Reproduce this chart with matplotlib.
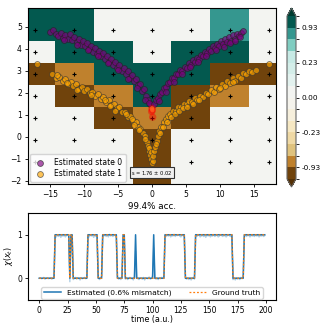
import numpy as np
import matplotlib
matplotlib.use("Agg")
import matplotlib.pyplot as plt
from matplotlib.colors import ListedColormap, BoundaryNorm

# grid of cells behind the scatter (centers and values)
grid_x = [-17.25, -11.5, -5.75, 0.0, 5.75, 11.5, 17.25]
grid_y = [-1.14, -0.14, 0.86, 1.86, 2.86, 3.86, 4.86]
grid_vals = [  # bottom row first
    [0.0, 0.0, 0.0, -0.97, 0.0, 0.0, 0.0],
    [0.0, 0.0, 0.0, -0.97, 0.0, 0.0, 0.0],
    [0.0, 0.0, -0.97, -0.85, -0.97, 0.0, 0.0],
    [0.0, -0.97, -0.85, 0.96, -0.97, -0.85, 0.0],
    [-0.97, -0.85, 0.96, 0.96, 0.96, -0.97, -0.97],
    [0.0, 0.96, 0.96, 0.0, 0.96, 0.96, 0.0],
    [0.96, 0.96, 0.0, 0.0, 0.0, 0.85, 0.0],
]
levels = [-1, -0.93, -0.7, -0.45, -0.23, -0.12, -0.05, 0, 0.05, 0.12, 0.23, 0.45, 0.7, 0.93, 1]
cbar_ticks = [-0.93, -0.23, 0.0, 0.23, 0.93]

# estimated state 0 (purple), left and right arms
s0_left_x = [-15.1, -14.6, -14.2, -13.8, -13.4, -13.1, -12.8, -12.4, -12.1, -11.8, -11.5, -11.1,
             -10.8, -10.5, -10.2, -9.9, -9.6, -9.3, -9.0, -8.7, -8.4, -8.1, -7.8, -7.5, -7.2,
             -6.9, -6.6, -6.3, -6.0, -5.7, -5.4, -5.1, -4.8, -4.5, -4.2, -3.9, -3.6, -3.3, -3.0,
             -2.7, -2.4, -2.1, -1.8, -1.5, -1.2, -0.9, -0.6, -0.3,
             -13.0, -11.0, -9.5, -8.0, -6.5, -5.0, -3.5, -2.2, -1.0, -0.5]
s0_left_y = [4.78, 4.86, 4.68, 4.58, 4.72, 4.50, 4.64, 4.46, 4.70, 4.40, 4.56, 4.30,
             4.46, 4.20, 4.36, 4.12, 4.26, 4.00, 4.14, 3.88, 4.02, 3.78, 3.90, 3.66, 3.80,
             3.54, 3.68, 3.40, 3.54, 3.28, 3.42, 3.14, 3.28, 3.00, 3.12, 2.86, 2.98, 2.70, 2.80,
             2.54, 2.62, 2.34, 2.40, 2.10, 2.16, 1.86, 1.70, 1.48,
             4.40, 4.20, 3.95, 3.70, 3.38, 3.05, 2.62, 2.22, 1.70, 1.55]
s0_right_x = [0.3, 0.6, 0.9, 1.2, 1.5, 1.8, 2.1, 2.4, 2.7, 3.0, 3.3, 3.6, 3.9, 4.2, 4.5, 4.8,
              5.1, 5.4, 5.7, 6.0, 6.3, 6.6, 6.9, 7.2, 7.5, 7.8, 8.1, 8.4, 8.7, 9.0, 9.3, 9.6,
              9.9, 10.2, 10.5, 10.8, 11.1, 11.4, 11.7, 12.0, 12.3, 12.6, 12.9, 13.2, 13.5,
              1.0, 2.0, 3.2, 4.4, 5.6, 6.8, 8.0, 9.4, 10.6, 11.5, 12.2, 13.0]
s0_right_y = [1.48, 1.66, 1.78, 1.96, 2.02, 2.22, 2.26, 2.46, 2.48, 2.66, 2.66, 2.84, 2.84,
              3.02, 3.00, 3.18, 3.14, 3.34, 3.28, 3.48, 3.42, 3.60, 3.54, 3.72, 3.66, 3.86,
              3.80, 3.98, 3.92, 4.12, 4.02, 4.24, 4.14, 4.34, 4.22, 4.44, 4.30, 4.54, 4.38,
              4.62, 4.46, 4.66, 4.60, 4.74, 4.80,
              1.62, 2.05, 2.50, 2.86, 3.18, 3.42, 3.70, 3.94, 4.10, 4.28, 4.36, 4.52]

# estimated state 1 (orange), left and right arms
s1_left_x = [-17.0, -14.8, -14.2, -13.7, -13.2, -12.8, -12.4, -12.0, -11.6, -11.2, -10.8, -10.4,
             -10.0, -9.6, -9.2, -8.8, -8.4, -8.0, -7.6, -7.2, -6.8, -6.4, -6.0, -5.6, -5.2,
             -4.8, -4.4, -4.0, -3.6, -3.2, -2.8, -2.4, -2.0, -1.7, -1.4, -1.1, -0.8, -0.6,
             -0.4, -0.25, -0.1, 0.0,
             -14.0, -12.6, -11.0, -9.0, -7.0, -6.2, -5.4, -3.8, -3.0, -2.6, -1.9, -1.0, -0.5, -0.2]
s1_left_y = [3.32, 2.84, 2.66, 2.74, 2.52, 2.62, 2.40, 2.50, 2.30, 2.40, 2.20, 2.28,
             2.10, 2.18, 1.98, 2.06, 1.86, 1.94, 1.74, 1.80, 1.60, 1.66, 1.46, 1.50, 1.30,
             1.34, 1.12, 1.14, 0.92, 0.96, 0.72, 0.70, 0.46, 0.36, 0.18, 0.02, -0.22, -0.42,
             -0.62, -0.84, -1.02, -1.20,
             2.80, 2.44, 2.14, 1.90, 1.66, 1.40, 1.20, 1.02, 0.80, 0.56, 0.30, -0.10, -0.50, -0.70]
s1_right_x = [0.1, 0.2, 0.35, 0.5, 0.7, 0.9, 1.1, 1.4, 1.7, 2.0, 2.3, 2.7, 3.1, 3.5, 3.9, 4.3,
              4.7, 5.1, 5.5, 5.9, 6.3, 6.7, 7.1, 7.5, 7.9, 8.3, 8.7, 9.1, 9.5, 9.9, 10.3, 10.7,
              11.1, 11.5, 11.9, 12.3, 12.7, 13.1, 13.5, 13.9, 14.3, 14.8, 15.3, 17.3,
              0.6, 1.2, 1.6, 2.2, 2.8, 3.4, 4.0, 4.6, 5.2, 6.0, 7.0, 10.0, 12.0]
s1_right_y = [-1.10, -0.88, -0.66, -0.44, -0.20, 0.04, 0.26, 0.46, 0.66, 0.80, 0.96, 1.04,
              1.18, 1.20, 1.34, 1.34, 1.50, 1.48, 1.64, 1.60, 1.76, 1.70, 1.88, 1.82, 2.00,
              1.94, 2.14, 2.06, 2.28, 2.18, 2.40, 2.30, 2.54, 2.44, 2.66, 2.56, 2.78, 2.68,
              2.92, 2.84, 3.00, 2.96, 3.06, 3.32,
              -0.30, 0.20, 0.44, 0.70, 0.90, 1.04, 1.18, 1.30, 1.38, 1.50, 1.68, 2.22, 2.50]

# highlighted points near the apex
hi_x = [0.0, 0.05, -0.05, 0.1]
hi_y = [1.30, 1.22, 1.15, 0.90]

# time series: ground truth as runs of states
truth_states = [0, 1, 0, 1, 0, 1, 0, 1, 0, 1, 0, 1, 0, 1, 0, 1]
truth_lengths = [14, 13, 1, 2, 13, 9, 4, 13, 5, 2, 35, 18, 9, 33, 10, 19]
mismatch_t = [85, 101]
soft_pct = [0, 1, -1, 0, 2, -2, 0, 1, -1, 0, 1, -2, 0, 3,
            97, 95, 99, 96, 100, 94, 98, 97, 99, 95, 98, 100, 96,
            -8,
            96, 92,
            -3, 0, 2, -2, 1, 0, -4, 1, -1, 0, 2, -1, 3,
            98, 95, 100, 97, 99, 94, 98, 96, 100,
            4, -3, -1, 5,
            99, 97, 100, 96, 98, 95, 101, 97, 99, 96, 100, 98, 94,
            3, -2, 0, -3, 4,
            95, 97,
            -2, 1, -3, 0, 2, -1, 0, -4, 3, 62, 2, -1, -3, 1, 0, -2, 2, -4, 1, 0, -1, 3, -2, 0, 5,
            70, 3, -2, 0, -3, 1, -1, 2, 0, 4,
            98, 96, 99, 97, 100, 95, 98, 97, 101, 96, 99, 98, 100, 97, 95, 99, 98, 96,
            4, -2, 0, -3, 1, -4, 0, 2, -2,
            99, 96, 98, 100, 95, 97, 99, 96, 98, 94, 100, 97, 99, 95, 98, 97, 100, 96, 99, 98,
            95, 97, 100, 98, 96, 99, 97, 95, 98, 100, 97, 96, 99,
            -3, 0, -4, 1, -2, 0, -3, 2, -1, 3,
            97, 99, 96, 100, 98, 95, 99, 97, 98, 96, 100, 97, 99, 95, 98, 97, 99, 96, 98]

truth = np.repeat(truth_states, truth_lengths)
t = np.arange(len(truth))
est = truth.copy()
est[mismatch_t] = 1
soft = np.array(soft_pct) / 100.0

fig = plt.figure(figsize=(3.22, 3.24), dpi=100)
ax = fig.add_axes([28/322, 1-184/324, 248/322, 176/324])
cax = fig.add_axes([287/322, 1-187/324, 9/322, 179/324])
ax2 = fig.add_axes([28/322, 1-300/324, 248/322, 87/324])

cols = ['#70430c', '#bf812d', '#dfc27d', '#efd9a5', '#f6e8c3', '#f6efdc', '#f5f3ec',
        '#f3f4f1', '#e3f2ef', '#d4eee9', '#c7eae5', '#80cdc1', '#35978f', '#03594f']
cmap = ListedColormap(cols)
cmap.set_under('#543005')
cmap.set_over('#003c30')
norm = BoundaryNorm(levels, cmap.N)

gx = np.array(grid_x)
gy = np.array(grid_y)
xe = np.concatenate([[gx[0] - 6], (gx[1:] + gx[:-1]) / 2, [gx[-1] + 6]])
ye = np.concatenate([[gy[0] - 2], (gy[1:] + gy[:-1]) / 2, [gy[-1] + 2]])
mesh = ax.pcolormesh(xe, ye, np.array(grid_vals), cmap=cmap, norm=norm)
GX, GY = np.meshgrid(gx, gy)
ax.plot(GX.ravel(), GY.ravel(), 'k+', ms=3.5, mew=0.8, zorder=2)

ax.scatter(s0_left_x + s0_right_x, s0_left_y + s0_right_y, s=18, c='purple', alpha=0.65,
           edgecolors='#222222', linewidths=0.6, zorder=3, label='Estimated state 0')
ax.scatter(s1_left_x + s1_right_x, s1_left_y + s1_right_y, s=18, c='orange', alpha=0.65,
           edgecolors='#333333', linewidths=0.6, zorder=3, label='Estimated state 1')
ax.scatter(hi_x, hi_y, s=28, c='red', alpha=0.45, edgecolors='none', zorder=4)
ax.scatter(hi_x[:2], hi_y[:2], s=10, c='#ff6020', alpha=0.8, edgecolors='none', zorder=4)

ax.text(0, -1.62, r's = 1.76 $\pm$ 0.02', fontsize=3.7, ha='center', va='center',
        bbox=dict(boxstyle='square,pad=0.3', fc='#f0f0f0', ec='#333333', lw=0.8), zorder=5)
ax.set_xlim(-18.3, 18.3)
ax.set_ylim(-2.14, 5.86)
ax.set_xticks([-15, -10, -5, 0, 5, 10, 15])
ax.set_yticks(range(-2, 6))
ax.tick_params(labelsize=5.5, length=2.5, width=0.6, pad=2)
ax.legend(loc='lower left', fontsize=5.5, handletextpad=1.0, borderpad=0.5,
          labelspacing=0.3, borderaxespad=0.3, handlelength=1.6)

cb = fig.colorbar(mesh, cax=cax, extend='both', ticks=cbar_ticks, format='%.2f')
cb.ax.tick_params(labelsize=5.3, length=2.5, width=0.6, pad=1.5)
cb.outline.set_edgecolor('#666666')

ax2.plot(t, soft, color='tab:blue', alpha=0.35, lw=1)
ax2.plot(t, est, color='tab:blue', lw=1.1, label='Estimated (0.6% mismatch)')
ax2.plot(t, truth, color='tab:orange', lw=0.9, ls=(0, (1.5, 1.5)), label='Ground truth')
ax2.set_ylim(-0.5, 1.5)
ax2.set_yticks([0, 1])
ax2.set_xticks(range(0, 201, 25))
ax2.tick_params(labelsize=5.5, length=2.5, width=0.6, pad=1.5)
ax2.set_xlabel('time (a.u.)', fontsize=5.8, labelpad=0)
ax2.set_ylabel(r'$\chi(x_t)$', fontsize=5.8, labelpad=2)
ax2.set_title('99.4% acc.', fontsize=6.3, pad=3)
ax2.legend(loc='lower center', ncol=2, fontsize=5.4, handlelength=2.3, borderpad=0.3,
           columnspacing=2.3, borderaxespad=0.2)

fig.savefig('out.png', dpi=100)
